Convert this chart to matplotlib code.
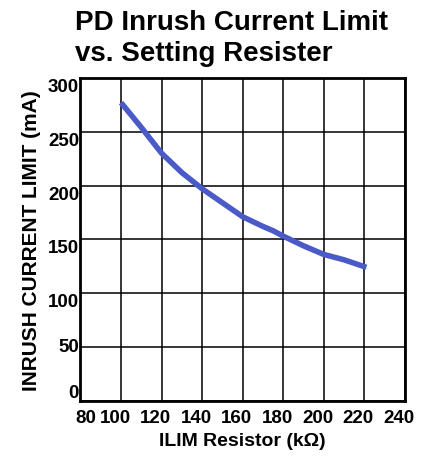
import numpy as np
import matplotlib
matplotlib.use('Agg')
import matplotlib.pyplot as plt
import matplotlib.transforms as mtransforms

plt.rcParams['font.family'] = ['Liberation Sans', 'DejaVu Sans']

# values
resistor_kohm = [100, 110, 120, 130, 140, 150, 160, 170, 175, 180, 190, 200, 210, 221]
inrush_ma = [277, 254, 230, 212, 197, 184, 171, 162, 158, 153, 144, 136, 131, 124]

x_ticks = [80, 100, 120, 140, 160, 180, 200, 220, 240]
y_ticks = [0, 50, 100, 150, 200, 250, 300]

fig = plt.figure(figsize=(4.28, 4.64), dpi=100)
ax = fig.add_axes([0.188, 0.134, 0.758, 0.696])

ax.plot(resistor_kohm, inrush_ma, color='#4a5bc8', lw=4, solid_capstyle='butt', zorder=3)

ax.set_xlim(80, 240)
ax.set_ylim(0, 300)
ax.set_xticks(x_ticks)
ax.set_yticks(y_ticks)
ax.grid(True, color='black', lw=1.1)
for s in ax.spines.values():
    s.set_linewidth(2)
ax.tick_params(length=0, labelsize=13.5)
ax.tick_params(axis='x', pad=6)
ax.tick_params(axis='y', pad=1)

# tick labels in the reference sit a bit off the grid lines
for i, lab in enumerate(ax.get_xticklabels()):
    dx = 5 if i == 0 else -6
    lab.set_fontweight('bold')
    lab.set_transform(lab.get_transform() + mtransforms.ScaledTranslation(dx / 100, 0, fig.dpi_scale_trans))
for i, lab in enumerate(ax.get_yticklabels()):
    lab.set_fontweight('bold')
    if i == 0:
        lab.set_va('bottom')
    elif i == 1:
        lab.set_va('center')
    else:
        lab.set_va('top')

ax.set_xlabel('ILIM Resistor (k\u03a9)', fontsize=14, fontweight='bold', labelpad=4)
ax.set_ylabel('INRUSH CURRENT LIMIT (mA)', fontsize=15, fontweight='bold', labelpad=5)

fig.text(0.175, 0.978, 'PD Inrush Current Limit\nvs. Setting Resister', fontsize=20,
         fontweight='bold', ha='left', va='top', linespacing=1.25)

fig.savefig('out.png', dpi=100)
